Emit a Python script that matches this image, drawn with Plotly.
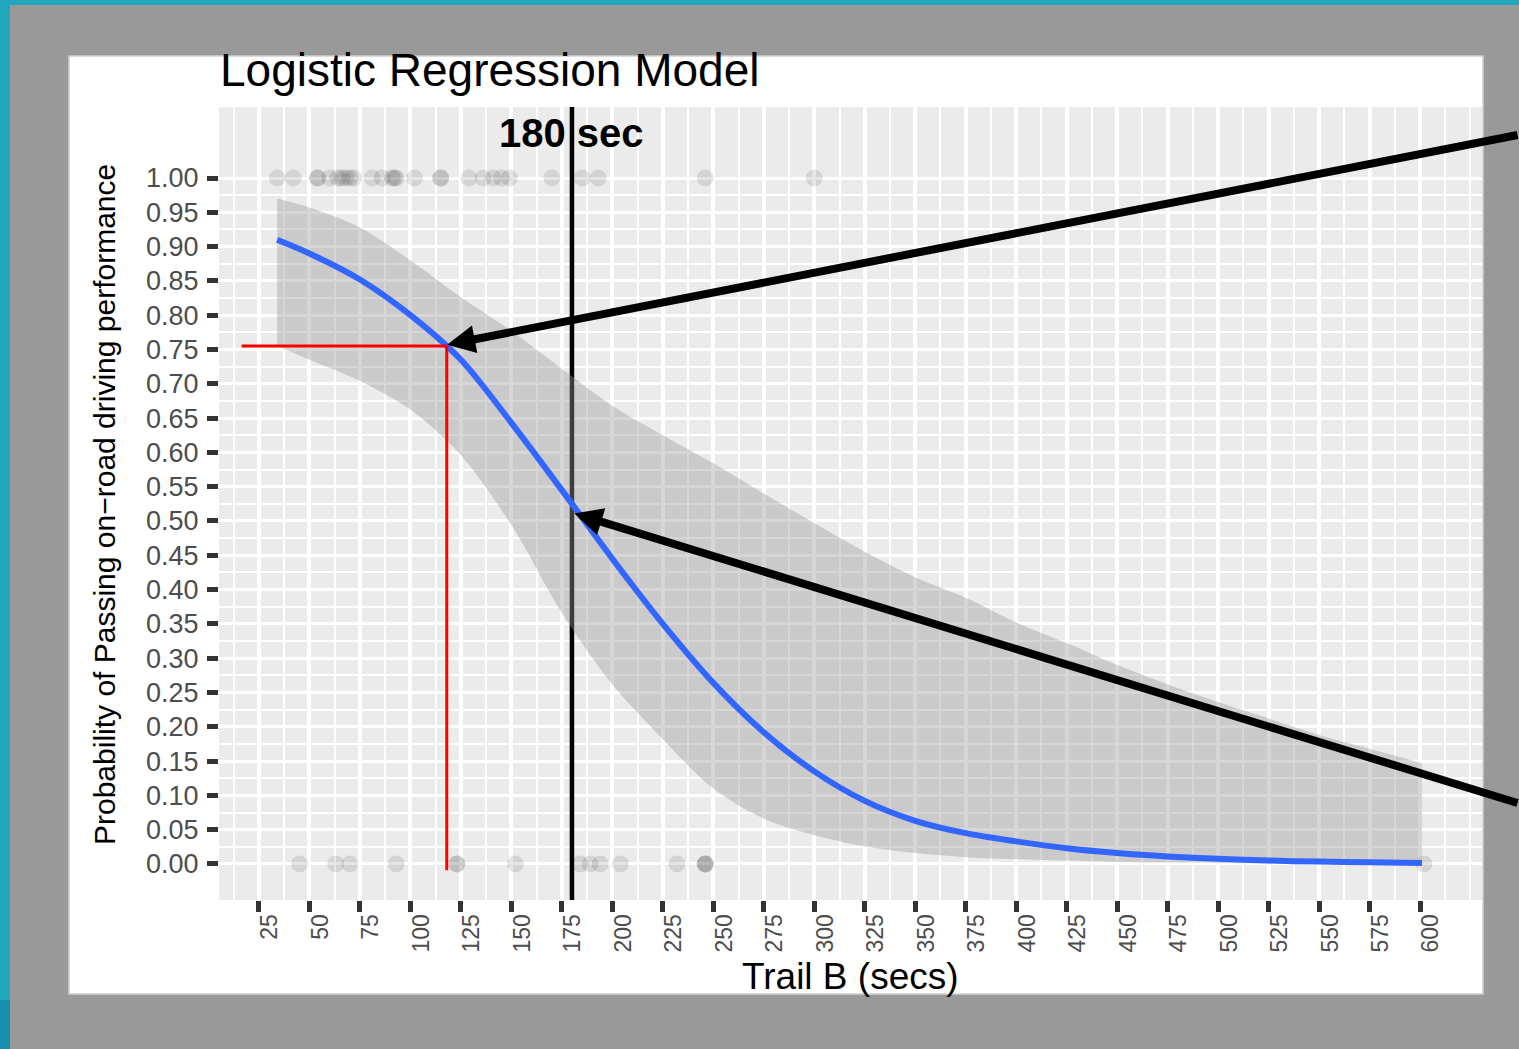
import plotly.graph_objects as go

# ---------------- data ----------------
curve_x = [34, 50, 75, 100, 125, 150, 175, 200, 225, 250, 275, 300, 325, 350,
           375, 400, 425, 450, 475, 500, 525, 550, 575, 601]
fit_prob = [0.910, 0.890, 0.852, 0.800, 0.735, 0.643, 0.545, 0.445, 0.350, 0.264,
            0.192, 0.135, 0.092, 0.063, 0.045, 0.033, 0.023, 0.016, 0.011, 0.0075,
            0.005, 0.0035, 0.0025, 0.0015]
ci_upper = [0.970, 0.957, 0.928, 0.880, 0.826, 0.777, 0.722, 0.668, 0.625, 0.584,
            0.540, 0.497, 0.455, 0.418, 0.388, 0.352, 0.322, 0.290, 0.262, 0.236,
            0.212, 0.188, 0.168, 0.147]
ci_lower = [0.755, 0.735, 0.704, 0.662, 0.596, 0.494, 0.366, 0.262, 0.182, 0.110,
            0.066, 0.042, 0.026, 0.016, 0.010, 0.007, 0.005, 0.003, 0.002, 0.0015,
            0.001, 0.0007, 0.0005, 0.0003]

# observed outcomes: passed (1) and failed (0) drivers, Trail B time in secs
pass_x = [34, 42, 54, 54, 60, 64, 66, 68, 70, 72, 81, 86, 91, 92, 93, 102, 115, 115,
          129, 136, 141, 145, 149, 170, 185, 193, 246, 300]
fail_x = [45, 63, 70, 93, 123, 123, 152, 184, 189, 194, 204, 232, 246, 246, 246, 602]

cutoff_sec = 180
target_prob = 0.755
target_sec = 118
red_h_start = 16.4
red_v_end = -0.009
arrow1_pt = (118.2, 0.757)
arrow2_pt = (181.2, 0.511)

x_range = [5.2, 630.7]
y_range = [-0.0525, 1.1035]
x_ticks = list(range(25, 601, 25))
x_minor = [12.5 + 25 * i for i in range(25)] + [625]
y_ticks = [round(0.05 * i, 2) for i in range(21)]
y_minor = [round(0.025 + 0.05 * i, 3) for i in range(20)]

# ---------------- layout geometry ----------------
W, H = 1519, 1049
ML, MR, MT, MB = 219, 37, 107, 149
PW, PH = W - ML - MR, H - MT - MB


def px(x):
    return (x - ML) / PW


def py(y):
    return (H - MB - y) / PH


FONT = "Liberation Sans, Arial, sans-serif"

fig = go.Figure()

# vertical cut-off line (drawn first so the ribbon lies over it)
fig.add_trace(go.Scatter(x=[cutoff_sec, cutoff_sec], y=y_range, mode="lines",
                         line=dict(color="#000000", width=4.5),
                         hoverinfo="skip", showlegend=False))
# points
fig.add_trace(go.Scatter(x=pass_x, y=[1] * len(pass_x), mode="markers",
                         marker=dict(size=17, color="rgba(0,0,0,0.10)"),
                         hoverinfo="skip", showlegend=False))
fig.add_trace(go.Scatter(x=fail_x, y=[0] * len(fail_x), mode="markers",
                         marker=dict(size=17, color="rgba(0,0,0,0.10)"),
                         hoverinfo="skip", showlegend=False))
# confidence ribbon
fig.add_trace(go.Scatter(x=curve_x, y=ci_lower, mode="lines",
                         line=dict(width=0, shape="spline", smoothing=0.9),
                         hoverinfo="skip", showlegend=False))
fig.add_trace(go.Scatter(x=curve_x, y=ci_upper, mode="lines", fill="tonexty",
                         fillcolor="rgba(153,153,153,0.4)",
                         line=dict(width=0, shape="spline", smoothing=0.9),
                         hoverinfo="skip", showlegend=False))
# fitted curve
fig.add_trace(go.Scatter(x=curve_x, y=fit_prob, mode="lines",
                         line=dict(color="#3366FF", width=6, shape="spline", smoothing=0.9),
                         hoverinfo="skip", showlegend=False))
# red reference lines
fig.add_trace(go.Scatter(x=[red_h_start, target_sec, None, target_sec, target_sec],
                         y=[target_prob, target_prob, None, target_prob, red_v_end],
                         mode="lines", line=dict(color="#FF0000", width=3),
                         hoverinfo="skip", showlegend=False))

shapes = [
    dict(type="rect", xref="paper", yref="paper", layer="below",
         x0=px(10), x1=px(1540), y0=py(1070), y1=py(5),
         fillcolor="#999999", line=dict(width=0)),
    dict(type="rect", xref="paper", yref="paper", layer="below",
         x0=px(-10), x1=px(10), y0=py(1070), y1=py(1000),
         fillcolor="#1790B0", line=dict(width=0)),
    dict(type="rect", xref="paper", yref="paper", layer="below",
         x0=px(69), x1=px(1483), y0=py(994), y1=py(56),
         fillcolor="#FFFFFF", line=dict(width=1.5, color="#CFCFCF")),
    dict(type="rect", xref="paper", yref="paper", layer="below",
         x0=0, x1=1, y0=0, y1=1, fillcolor="#EBEBEB", line=dict(width=0)),
]

annotations = [
    dict(x=arrow1_pt[0], y=arrow1_pt[1], xref="x", yref="y", text="",
         showarrow=True, arrowhead=2, arrowsize=0.7, arrowwidth=8,
         arrowcolor="#000000", ax=1072, ay=-210, standoff=0),
    dict(x=arrow2_pt[0], y=arrow2_pt[1], xref="x", yref="y", text="",
         showarrow=True, arrowhead=2, arrowsize=0.7, arrowwidth=8,
         arrowcolor="#000000", ax=945, ay=290, standoff=0),
    dict(x=cutoff_sec, y=1.0656, xref="x", yref="y", text="<b>180 sec</b>",
         showarrow=False, xanchor="center", yanchor="middle",
         font=dict(family=FONT, size=40, color="#000000")),
    dict(x=px(218), y=py(70.5), xref="paper", yref="paper",
         text="Logistic Regression Model", showarrow=False,
         xanchor="left", yanchor="middle",
         font=dict(family=FONT, size=46, color="#000000")),
    dict(x=px(850), y=py(976), xref="paper", yref="paper",
         text="Trail B (secs)", showarrow=False,
         xanchor="center", yanchor="middle",
         font=dict(family=FONT, size=37, color="#000000")),
    dict(x=px(105), y=py(505), xref="paper", yref="paper",
         text="Probability of Passing on−road driving performance",
         showarrow=False, textangle=-90,
         xanchor="center", yanchor="middle",
         font=dict(family=FONT, size=30, color="#000000")),
]

fig.update_layout(
    template="none",
    width=W, height=H, autosize=False,
    margin=dict(l=ML, r=MR, t=MT, b=MB, pad=0),
    paper_bgcolor="#1FA7BE",
    plot_bgcolor="rgba(0,0,0,0)",
    showlegend=False,
    shapes=shapes,
    annotations=annotations,
    xaxis=dict(
        range=x_range, tickmode="array", tickvals=x_ticks,
        ticktext=[str(v) for v in x_ticks], tickangle=-90,
        ticks="outside", ticklen=11, tickwidth=5, tickcolor="#333333",
        tickfont=dict(family=FONT, size=23, color="#4D4D4D"),
        ticklabelshift=11, ticklabelstandoff=-7,
        showgrid=True, gridcolor="#FFFFFF", gridwidth=3.5,
        minor=dict(tickmode="array", tickvals=x_minor, showgrid=True,
                   gridcolor="#FFFFFF", gridwidth=1.8, ticks=""),
        zeroline=False, showline=False, fixedrange=True,
    ),
    yaxis=dict(
        range=y_range, tickmode="array", tickvals=y_ticks,
        ticktext=[f"{v:.2f}" for v in y_ticks],
        ticks="outside", ticklen=11, tickwidth=4.5, tickcolor="#333333",
        tickfont=dict(family=FONT, size=27, color="#4D4D4D"),
        ticklabelstandoff=3,
        showgrid=True, gridcolor="#FFFFFF", gridwidth=3,
        minor=dict(tickmode="array", tickvals=y_minor, showgrid=True,
                   gridcolor="#FFFFFF", gridwidth=1.5, ticks=""),
        zeroline=False, showline=False, fixedrange=True,
    ),
)

fig.write_html("out.html", config={"displayModeBar": False},
               post_script="document.body.style.margin='0';"
                           "document.body.style.overflow='hidden';")
